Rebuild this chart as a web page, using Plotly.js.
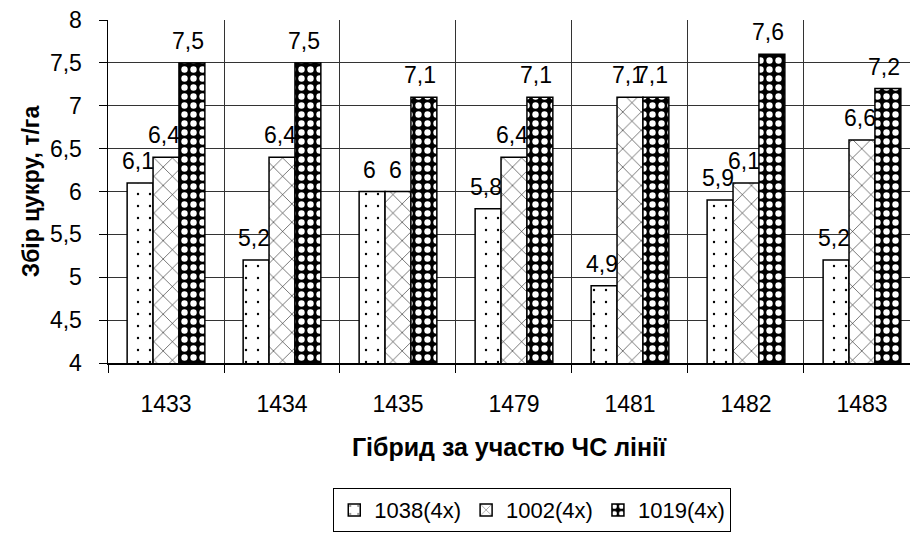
<!DOCTYPE html>
<html>
<head>
<meta charset="utf-8">
<script src="https://cdn.plot.ly/plotly-3.0.1.min.js"></script>
<style>html,body{margin:0;padding:0;background:#fff;}#chart{width:910px;height:533px;}</style>
</head>
<body>
<div id="chart"></div>
<script>
const categories = ['1433', '1434', '1435', '1479', '1481', '1482', '1483'];
const seriesNames = ['1038(4x)', '1002(4x)', '1019(4x)'];
const s1038 = [6.1, 5.2, 6.0, 5.8, 4.9, 5.9, 5.2];
const s1002 = [6.4, 6.4, 6.0, 6.4, 7.1, 6.1, 6.6];
const s1019 = [7.5, 7.5, 7.1, 7.1, 7.1, 7.6, 7.2];
const yTicks = [4, 4.5, 5, 5.5, 6, 6.5, 7, 7.5, 8];
const yTickText = ['4', '4,5', '5', '5,5', '6', '6,5', '7', '7,5', '8'];

const FONT = 'Liberation Sans, Arial, sans-serif';
const seriesVals = [s1038, s1002, s1019];
const patterns = [
  {shape: '.', bgcolor: '#ffffff', fgcolor: '#000000', size: 12, solidity: 0.03},
  {shape: 'x', bgcolor: '#ffffff', fgcolor: '#000000', size: 13, solidity: 0.08},
  {shape: '.', bgcolor: '#000000', fgcolor: '#ffffff', size: 9, solidity: 0.4}
];

const traces = seriesVals.map((vals, i) => ({
  type: 'bar',
  name: seriesNames[i],
  x: categories,
  y: vals,
  marker: {color: '#ffffff', line: {color: '#000000', width: 1.5}, pattern: patterns[i]},
  hoverinfo: 'skip'
}));

const fmt = v => String(v).replace('.', ',');
const shifts = [-28, -2, 22];
const annotations = [];
seriesVals.forEach((vals, i) => {
  vals.forEach((v, j) => {
    annotations.push({
      x: j, y: v, xref: 'x', yref: 'y',
      text: fmt(v), showarrow: false,
      xshift: shifts[i], yshift: 22,
      font: {family: FONT, size: 23, color: '#000'}
    });
  });
});

const layout = {
  width: 910, height: 533,
  margin: {l: 108, r: 0, t: 20, b: 170},
  paper_bgcolor: '#ffffff', plot_bgcolor: '#ffffff',
  barmode: 'group', bargap: 0.33, bargroupgap: 0,
  font: {family: FONT, size: 23, color: '#000'},
  xaxis: {
    type: 'category',
    range: [-0.5, 6.414],
    tickson: 'boundaries',
    ticks: 'outside', ticklen: 8, tickcolor: '#000', tickwidth: 1,
    showgrid: true, gridcolor: '#333', gridwidth: 1,
    showline: true, linecolor: '#000', linewidth: 1.5,
    tickfont: {family: FONT, size: 23, color: '#000'},
    ticklabelstandoff: 20,
    title: {text: '<b>Гібрид за участю ЧС лінії</b>', font: {family: FONT, size: 25, color: '#000'}, standoff: 22},
    fixedrange: true
  },
  yaxis: {
    range: [4, 8],
    tickvals: yTicks, ticktext: yTickText,
    ticks: 'outside', ticklen: 8, tickcolor: '#000', tickwidth: 1,
    showgrid: true, gridcolor: '#333', gridwidth: 1,
    showline: true, linecolor: '#000', linewidth: 1.5,
    zeroline: false,
    tickfont: {family: FONT, size: 23, color: '#000'},
    ticklabelstandoff: 12,
    title: {text: '<b>Збір цукру, т/га</b>', font: {family: FONT, size: 23, color: '#000'}, standoff: 4},
    fixedrange: true
  },
  showlegend: true,
  legend: {
    orientation: 'h', x: 0.529, xanchor: 'center', xref: 'paper',
    y: -0.493, yanchor: 'bottom',
    bordercolor: '#000', borderwidth: 1, bgcolor: '#fff',
    font: {family: FONT, size: 22, color: '#000'},
    itemwidth: 30, tracegroupgap: 0
  },
  annotations: annotations
};

Plotly.newPlot('chart', traces, layout, {displayModeBar: false, staticPlot: true});
</script>
</body>
</html>
